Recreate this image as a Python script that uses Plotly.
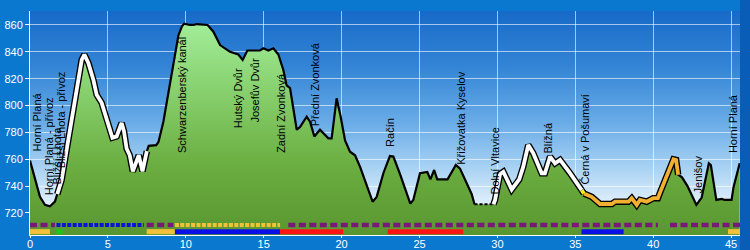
import base64
import numpy as np
import plotly.graph_objects as go

# ---------------- data ----------------
dist_km = [0.0, 0.3, 0.64, 0.96, 1.28, 1.6, 1.75, 2.03, 2.35, 2.67, 3.0, 3.32, 3.49, 3.75, 4.07, 4.28,
           4.6, 4.92, 5.29, 5.56, 5.88, 6.03, 6.2, 6.4, 6.6, 6.98, 7.22, 7.5, 7.62, 8.1, 8.25, 8.56,
           8.88, 9.2, 9.52, 9.75, 9.9, 10.27, 10.5, 10.7, 11.4, 11.77, 12.2, 12.84, 13.37, 13.65,
           13.95, 14.3, 14.76, 14.98, 15.3, 15.62, 15.94, 16.26, 16.47, 16.69, 16.9, 17.12, 17.33,
           17.76, 17.97, 18.25, 18.61, 19.15, 19.36, 19.68, 19.94, 20.22, 20.54, 20.86, 21.18, 21.6,
           21.99, 22.25, 22.68, 23.1, 23.32, 23.75, 24.18, 24.41, 24.6, 25.03, 25.5, 25.7, 25.94,
           26.14, 26.8, 27.33, 27.6, 28.35, 28.53, 29.75, 29.85, 30.17, 30.38, 30.92, 31.4, 31.66,
           31.98, 32.3, 32.84, 33.05, 33.38, 33.7, 34.02, 34.66, 35.41, 35.55, 36.05, 36.59, 37.34,
           37.55, 38.41, 38.62, 38.94, 39.15, 39.58, 40.0, 40.3, 40.5, 40.87, 41.3, 41.47, 41.6,
           41.85, 42.2, 42.77, 43.11, 43.57, 43.7, 44.05, 44.39, 44.6, 45.03, 45.15, 45.55]
elev_m = [759, 747, 732, 726, 725, 728.5, 734, 744.6, 767, 789, 814, 834, 838, 831.5, 819, 808,
          802, 789, 776, 777, 787, 781, 768, 763, 751, 763, 751, 766, 770, 770.5, 773, 788,
          809, 829, 852, 859, 861, 860, 860, 860.7, 860, 855, 845, 840, 838, 834,
          841, 841, 841, 842.6, 841, 842.6, 838, 826.5, 815, 813, 797, 782, 784,
          791.7, 788, 777, 782, 775.6, 775.6, 805.4, 791.7, 774, 765.6, 763, 754.5, 741,
          728.4, 732, 749.6, 762.4, 762, 749, 734.7, 727, 729.7, 749.6, 750.5, 745, 752,
          745, 745, 755.7, 753, 734, 726.5, 726.5, 729.7, 749, 750.7, 737.5, 745, 754.5,
          770.6, 764.5, 749.6, 749.6, 762, 757, 759.5, 749.6, 737, 734.5, 732, 726.7, 726.7,
          728.4, 728.4, 731, 726, 729.7, 728.4, 731, 731, 737, 748, 760, 759.5, 748.5,
          746.5, 740, 726, 731.5, 757, 755.7, 729.7, 730.5, 729.7, 729.7, 739, 757]

# place labels
place_names = ["Horní Planá", "Horní Planá - přívoz", "Bližší Lhota", "Bližší Lhota - přívoz",
               "Schwarzenberský kanál", "Hutský Dvůr", "Josefův Dvůr", "Zadní Zvonková",
               "Přední Zvonková", "Račín", "Křižovatka Kyselov", "Dolní Vltavice", "Blížná",
               "Černá v Pošumaví", "Jenišov", "Horní Planá"]
place_km = [0.43, 1.18, 1.72, 1.98, 9.74, 13.37, 14.38, 16.15, 18.29, 23.1, 27.7, 29.83, 33.23,
            35.62, 42.9, 45.08]
place_label_base = [764.5, 732, 739.5, 752, 763, 781.8, 785.5, 763, 783, 768, 754.5, 732.5, 763,
                    739.6, 733.4, 763]

# highlighted route parts (by km range)
white_ranges = [(1.75, 7.5), (29.75, 35.41)]
dashed_range = (28.53, 29.75)
yellow_range = (35.41, 35.55)
orange_range = (35.55, 41.6)

# surface / route type strips
row1_start = [0.0, 1.7, 7.49, 9.3, 16.58, 41.08]
row1_end = [1.6, 7.3, 9.2, 16.05, 40.3, 45.6]
row1_kind = ["purple_dash", "blue_dot", "purple_dash", "yellow_dot", "purple_dash", "purple_dash"]
row1_level = 711.1

row2_start = [0.0, 1.7, 7.49, 9.3, 16.05, 22.96, 35.4, 44.8]
row2_end = [1.28, 2.1, 9.3, 16.05, 20.1, 27.8, 38.1, 45.6]
row2_color = ["#f2c13a", "#1fc41f", "#f2c13a", "#0a10e6", "#ff1414", "#ff1414", "#0a10e6", "#f2c13a"]
row2_level = 706.1

x_ticks = [0, 5, 10, 15, 20, 25, 30, 35, 40, 45]
y_ticks = [720, 740, 760, 780, 800, 820, 840, 860]

X_RANGE = [0, 45.57]
Y_RANGE = [703.6, 870.4]

# ---------------- figure ----------------
d = np.array(dist_km)
e = np.array(elev_m)

fig = go.Figure()

# sky gradient image (drawn under the gridlines)
svg = ('<svg xmlns="http://www.w3.org/2000/svg" width="100" height="100" viewBox="0 0 100 100" '
       'preserveAspectRatio="none"><defs><linearGradient id="g" x1="0" y1="0" x2="0" y2="1">'
       '<stop offset="0" stop-color="#176ac8"/>'
       '<stop offset="0.25" stop-color="#3485d6"/>'
       '<stop offset="0.5" stop-color="#6aace7"/>'
       '<stop offset="0.7" stop-color="#a8d2f3"/>'
       '<stop offset="0.85" stop-color="#dcedfa"/>'
       '<stop offset="1" stop-color="#ffffff"/>'
       '</linearGradient></defs><rect x="0" y="0" width="100" height="100" fill="url(#g)"/></svg>')
src = "data:image/svg+xml;base64," + base64.b64encode(svg.encode()).decode()
fig.add_layout_image(source=src, xref="x", yref="y", x=X_RANGE[0], y=Y_RANGE[1],
                     sizex=X_RANGE[1] - X_RANGE[0], sizey=Y_RANGE[1] - Y_RANGE[0],
                     sizing="stretch", xanchor="left", yanchor="top", layer="below")

# terrain fill
fig.add_trace(go.Scatter(
    x=d, y=e, mode="lines", line=dict(width=0), fill="tozeroy",
    fillgradient=dict(type="vertical", start=Y_RANGE[0], stop=Y_RANGE[1],
                      colorscale=[[0, "#5a9630"], [0.3, "#6aad40"], [0.6, "#84cc68"],
                                  [1, "#a6f2a0"]]),
    hoverinfo="skip", showlegend=False))

# strips row 1
for s, t, k in zip(row1_start, row1_end, row1_kind):
    if k == "purple_dash":
        ln = dict(color="#7a187a", width=4.5, dash="7px,3.5px")
    elif k == "blue_dot":
        ln = dict(color="#0a14d6", width=4, dash="4px,1.4px")
    else:
        ln = dict(color="#f2c13a", width=4, dash="4px,1.4px")
    fig.add_trace(go.Scatter(x=[s, t], y=[row1_level, row1_level], mode="lines", line=ln,
                             hoverinfo="skip", showlegend=False))
# strips row 2
for s, t, c in zip(row2_start, row2_end, row2_color):
    fig.add_trace(go.Scatter(x=[s, t], y=[row2_level, row2_level], mode="lines",
                             line=dict(color=c, width=5), hoverinfo="skip", showlegend=False))


def part(lo, hi):
    m = (d >= lo - 1e-9) & (d <= hi + 1e-9)
    return d[m], e[m]


# black profile line (solid parts)
m1 = d <= dashed_range[0] + 1e-9
m2 = d >= dashed_range[1] - 1e-9
xs = list(d[m1]) + [None] + list(d[m2])
ys = list(e[m1]) + [None] + list(e[m2])
fig.add_trace(go.Scatter(x=xs, y=ys, mode="lines", line=dict(color="black", width=2.2),
                         connectgaps=False, hoverinfo="skip", showlegend=False))
px_, py_ = part(*dashed_range)
fig.add_trace(go.Scatter(x=px_, y=py_, mode="lines", line=dict(color="black", width=2, dash="3px,2px"),
                         hoverinfo="skip", showlegend=False))

# highlighted parts
for lo, hi in white_ranges:
    hx, hy = part(lo, hi)
    fig.add_trace(go.Scatter(x=hx, y=hy, mode="lines", line=dict(color="black", width=6.5),
                             hoverinfo="skip", showlegend=False))
    fig.add_trace(go.Scatter(x=hx, y=hy, mode="lines", line=dict(color="white", width=3.8),
                             hoverinfo="skip", showlegend=False))
for (lo, hi), col in [(orange_range, "#f2b030"), (yellow_range, "#f4f020")]:
    hx, hy = part(lo, hi)
    fig.add_trace(go.Scatter(x=hx, y=hy, mode="lines", line=dict(color="black", width=6.5),
                             hoverinfo="skip", showlegend=False))
    fig.add_trace(go.Scatter(x=hx, y=hy, mode="lines", line=dict(color=col, width=3.8),
                             hoverinfo="skip", showlegend=False))

# place labels
for name, xk, yb in zip(place_names, place_km, place_label_base):
    fig.add_annotation(x=xk, y=yb, text=name, textangle=-90, showarrow=False,
                       xanchor="center", yanchor="bottom",
                       font=dict(family="Liberation Sans, Arial, sans-serif", size=11, color="black"))

# darker right border strip
fig.add_shape(type="rect", xref="paper", yref="paper", x0=1.0, x1=1.02, y0=-0.2, y1=1.2,
              fillcolor="#0a5db6", line=dict(width=0), layer="above")

axis_font = dict(family="Liberation Sans, Arial, sans-serif", size=11, color="white")
fig.update_xaxes(range=X_RANGE, tickvals=x_ticks, showgrid=True, gridcolor="rgba(255,255,255,0.6)",
                 gridwidth=1, zeroline=False, showline=True, linecolor="white", linewidth=1,
                 ticks="outside", ticklen=2, tickcolor="white", tickfont=axis_font, automargin=False,
                 ticklabelstandoff=-3)
fig.update_yaxes(range=Y_RANGE, tickvals=y_ticks, showgrid=True, gridcolor="rgba(255,255,255,0.6)",
                 gridwidth=1, zeroline=False, showline=True, linecolor="white", linewidth=1,
                 ticks="outside", ticklen=4, tickcolor="white", tickfont=axis_font, automargin=False)
fig.update_layout(width=750, height=250, margin=dict(l=30, r=10, t=11, b=15, autoexpand=False),
                  paper_bgcolor="#0b78d0", plot_bgcolor="#ffffff", showlegend=False)

fig.write_html("out.html")
